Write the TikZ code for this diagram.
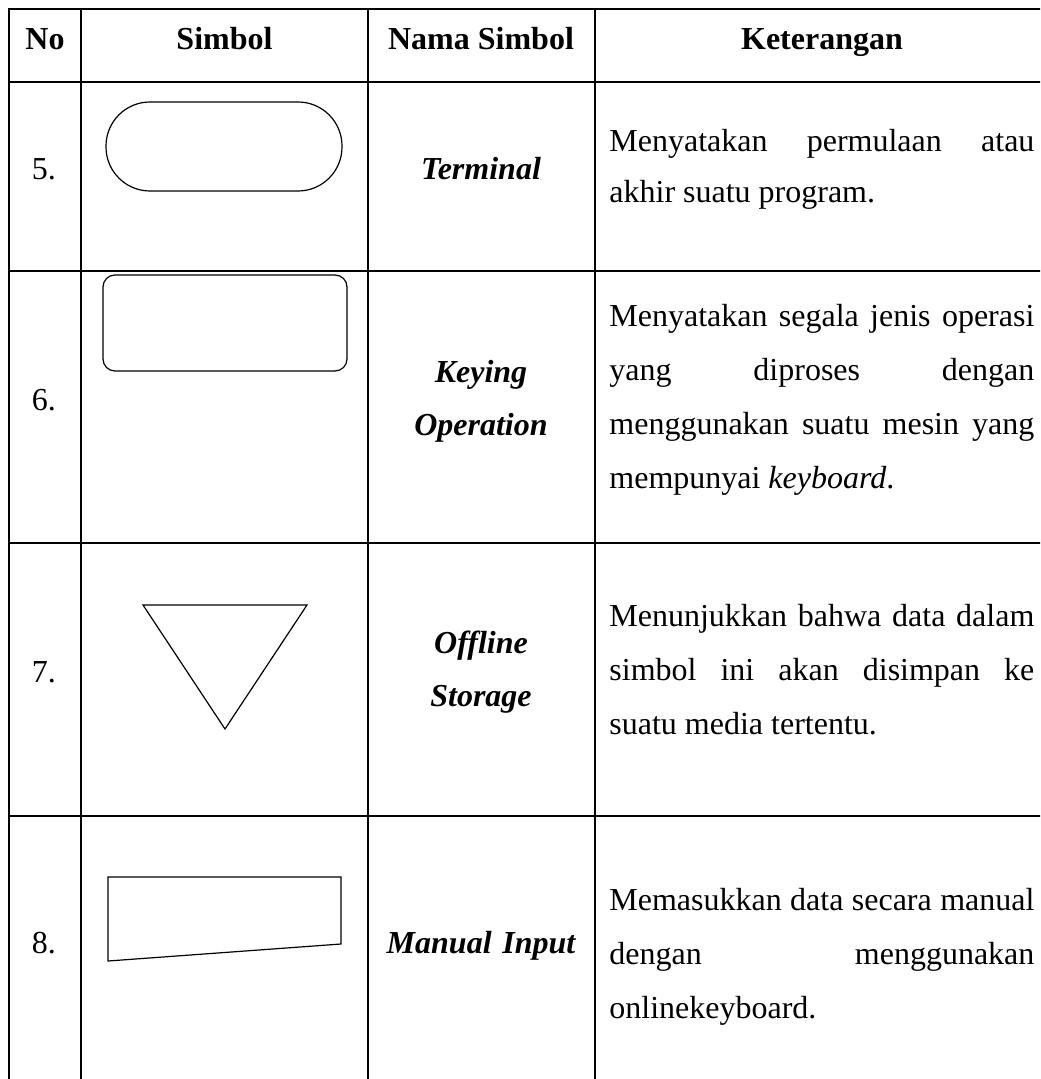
\documentclass[tikz,border=0pt]{standalone}
\usepackage{fontspec}
\setmainfont{Liberation Serif}
\hyphenpenalty=10000
\exhyphenpenalty=10000

\begin{document}
\begin{tikzpicture}[x=0.5pt, y=-0.5pt,
  every node/.style={font=\fontsize{16pt}{27pt}\selectfont, inner sep=0pt},
  grid/.style={line width=1pt},
  symbol/.style={line width=0.6pt},
  colhdr/.style={font=\fontsize{16pt}{27pt}\selectfont\bfseries, anchor=base},
  numcell/.style={anchor=base},
  namecell/.style={font=\fontsize{16pt}{26.5pt}\selectfont\bfseries\itshape,
                   anchor=base, text width=110pt, align=center},
  desccell/.style={anchor=base west, text width=212.5pt, align=justify}]

\useasboundingbox (0,0) rectangle (1040,1079);
\clip (0,0) rectangle (1040,1079);

\draw[grid] (9,9) rectangle (1049,1100);
\foreach \y in {82,271,543,816}
  \draw[grid] (9,\y) -- (1049,\y);
\foreach \x in {81,368,595}
  \draw[grid] (\x,9) -- (\x,1100);

\node[colhdr] (hno)   at (45,50)    {No};
\node[colhdr] (hsim)  at (224.5,50) {Simbol};
\node[colhdr] (hnama) at (481,50)   {Nama Simbol};
\node[colhdr] (hket)  at (822,50)   {Keterangan};

\node[numcell] (n5) at (44,180) {5.};
\node[numcell] (n6) at (44,410) {6.};
\node[numcell] (n7) at (44,682) {7.};
\node[numcell] (n8) at (44,953) {8.};

\draw[symbol, rounded corners=22pt] (106,102) rectangle (342,191);
\draw[symbol, rounded corners=6pt] (103,275) rectangle (347,371);
\draw[symbol] (143,605) -- (307,605) -- (225,729) -- cycle;
\draw[symbol] (108,877) -- (341,877) -- (341,944) -- (108,961) -- cycle;

\node[namecell] (m5) at (481,180) {Terminal};
\node[namecell] (m6) at (481,382) {Keying\\Operation};
\node[namecell] (m7) at (481,653) {Offline\\Storage};
\node[namecell] (m8) at (481,953) {Manual Input};

\node[desccell, font=\fontsize{16pt}{25.5pt}\selectfont] (d5) at (609,152)
  {Menyatakan permulaan atau \linebreak akhir suatu program.};
\node[desccell] (d6) at (609,327)
  {Menyatakan segala jenis operasi \linebreak yang diproses dengan \linebreak
   menggunakan suatu mesin yang \linebreak mempunyai \textit{keyboard}.};
\node[desccell] (d7) at (609,626)
  {Menunjukkan bahwa data dalam \linebreak simbol ini akan disimpan ke \linebreak
   suatu media tertentu.};
\node[desccell] (d8) at (609,910)
  {Memasukkan data secara manual \linebreak dengan menggunakan \linebreak
   onlinekeyboard.};
\end{tikzpicture}
\end{document}
